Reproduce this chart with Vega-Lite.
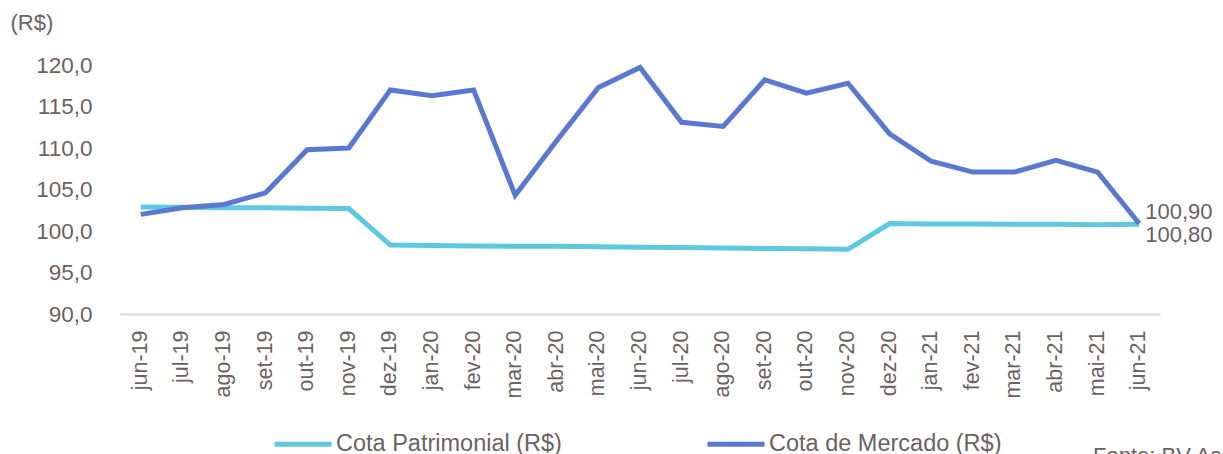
{
  "$schema": "https://vega.github.io/schema/vega-lite/v6.json",
  "width": 1040,
  "height": 249,
  "autosize": {"type": "none"},
  "padding": {"left": 120, "top": 65, "right": 63, "bottom": 140},
  "background": "white",
  "config": {
    "locale": {"number": {"decimal": ",", "thousands": ".", "grouping": [3], "currency": ["R$", ""]}},
    "font": "Liberation Sans",
    "view": {"stroke": null},
    "axis": {"labelColor": "#6B6262", "titleColor": "#6B6262", "labelFont": "Liberation Sans", "titleFont": "Liberation Sans"}
  },
  "title": {
    "text": "Fonte: BV Asset",
    "orient": "bottom",
    "anchor": "start",
    "frame": "group",
    "dx": 973,
    "offset": -10,
    "fontSize": 22,
    "fontWeight": "normal",
    "color": "#6B6262",
    "baseline": "top"
  },
  "data": {
    "values": [
      {"mes": "jun-19", "serie": "Cota Patrimonial (R$)", "valor": 102.9},
      {"mes": "jul-19", "serie": "Cota Patrimonial (R$)", "valor": 102.85},
      {"mes": "ago-19", "serie": "Cota Patrimonial (R$)", "valor": 102.8},
      {"mes": "set-19", "serie": "Cota Patrimonial (R$)", "valor": 102.8},
      {"mes": "out-19", "serie": "Cota Patrimonial (R$)", "valor": 102.75},
      {"mes": "nov-19", "serie": "Cota Patrimonial (R$)", "valor": 102.7},
      {"mes": "dez-19", "serie": "Cota Patrimonial (R$)", "valor": 98.3},
      {"mes": "jan-20", "serie": "Cota Patrimonial (R$)", "valor": 98.25},
      {"mes": "fev-20", "serie": "Cota Patrimonial (R$)", "valor": 98.2},
      {"mes": "mar-20", "serie": "Cota Patrimonial (R$)", "valor": 98.15},
      {"mes": "abr-20", "serie": "Cota Patrimonial (R$)", "valor": 98.15},
      {"mes": "mai-20", "serie": "Cota Patrimonial (R$)", "valor": 98.1},
      {"mes": "jun-20", "serie": "Cota Patrimonial (R$)", "valor": 98.05},
      {"mes": "jul-20", "serie": "Cota Patrimonial (R$)", "valor": 98.0},
      {"mes": "ago-20", "serie": "Cota Patrimonial (R$)", "valor": 97.95},
      {"mes": "set-20", "serie": "Cota Patrimonial (R$)", "valor": 97.9},
      {"mes": "out-20", "serie": "Cota Patrimonial (R$)", "valor": 97.85},
      {"mes": "nov-20", "serie": "Cota Patrimonial (R$)", "valor": 97.8},
      {"mes": "dez-20", "serie": "Cota Patrimonial (R$)", "valor": 100.9},
      {"mes": "jan-21", "serie": "Cota Patrimonial (R$)", "valor": 100.85},
      {"mes": "fev-21", "serie": "Cota Patrimonial (R$)", "valor": 100.85},
      {"mes": "mar-21", "serie": "Cota Patrimonial (R$)", "valor": 100.8},
      {"mes": "abr-21", "serie": "Cota Patrimonial (R$)", "valor": 100.8},
      {"mes": "mai-21", "serie": "Cota Patrimonial (R$)", "valor": 100.75},
      {"mes": "jun-21", "serie": "Cota Patrimonial (R$)", "valor": 100.8},
      {"mes": "jun-19", "serie": "Cota de Mercado (R$)", "valor": 102.0},
      {"mes": "jul-19", "serie": "Cota de Mercado (R$)", "valor": 102.8},
      {"mes": "ago-19", "serie": "Cota de Mercado (R$)", "valor": 103.2},
      {"mes": "set-19", "serie": "Cota de Mercado (R$)", "valor": 104.6},
      {"mes": "out-19", "serie": "Cota de Mercado (R$)", "valor": 109.8},
      {"mes": "nov-19", "serie": "Cota de Mercado (R$)", "valor": 110.0},
      {"mes": "dez-19", "serie": "Cota de Mercado (R$)", "valor": 117.0},
      {"mes": "jan-20", "serie": "Cota de Mercado (R$)", "valor": 116.3},
      {"mes": "fev-20", "serie": "Cota de Mercado (R$)", "valor": 117.0},
      {"mes": "mar-20", "serie": "Cota de Mercado (R$)", "valor": 104.3},
      {"mes": "abr-20", "serie": "Cota de Mercado (R$)", "valor": 110.9},
      {"mes": "mai-20", "serie": "Cota de Mercado (R$)", "valor": 117.3},
      {"mes": "jun-20", "serie": "Cota de Mercado (R$)", "valor": 119.7},
      {"mes": "jul-20", "serie": "Cota de Mercado (R$)", "valor": 113.1},
      {"mes": "ago-20", "serie": "Cota de Mercado (R$)", "valor": 112.6},
      {"mes": "set-20", "serie": "Cota de Mercado (R$)", "valor": 118.2},
      {"mes": "out-20", "serie": "Cota de Mercado (R$)", "valor": 116.6},
      {"mes": "nov-20", "serie": "Cota de Mercado (R$)", "valor": 117.8},
      {"mes": "dez-20", "serie": "Cota de Mercado (R$)", "valor": 111.7},
      {"mes": "jan-21", "serie": "Cota de Mercado (R$)", "valor": 108.4},
      {"mes": "fev-21", "serie": "Cota de Mercado (R$)", "valor": 107.1},
      {"mes": "mar-21", "serie": "Cota de Mercado (R$)", "valor": 107.1},
      {"mes": "abr-21", "serie": "Cota de Mercado (R$)", "valor": 108.5},
      {"mes": "mai-21", "serie": "Cota de Mercado (R$)", "valor": 107.1},
      {"mes": "jun-21", "serie": "Cota de Mercado (R$)", "valor": 100.9}
    ]
  },
  "encoding": {
    "x": {
      "field": "mes",
      "type": "ordinal",
      "sort": ["jun-19","jul-19","ago-19","set-19","out-19","nov-19","dez-19","jan-20","fev-20","mar-20","abr-20","mai-20","jun-20","jul-20","ago-20","set-20","out-20","nov-20","dez-20","jan-21","fev-21","mar-21","abr-21","mai-21","jun-21"],
      "scale": {"type": "band", "paddingInner": 0, "paddingOuter": 0},
      "axis": {
        "title": null,
        "labelAngle": -90,
        "labelAlign": "right",
        "labelBaseline": "middle",
        "labelPadding": 16,
        "labelFontSize": 21.5,
        "ticks": false,
        "domainColor": "#D9D9D9",
        "domainWidth": 2,
        "grid": false
      }
    },
    "y": {
      "field": "valor",
      "type": "quantitative",
      "scale": {"domain": [90, 120], "nice": false, "zero": false},
      "axis": {
        "title": "(R$)",
        "titleAngle": 0,
        "titleAlign": "left",
        "titleBaseline": "middle",
        "titleX": -110,
        "titleY": -43,
        "titleFontSize": 22,
        "titleFontWeight": "normal",
        "values": [90, 95, 100, 105, 110, 115, 120],
        "format": ".1f",
        "labelFontSize": 22.5,
        "labelPadding": 28,
        "domain": false,
        "ticks": false,
        "grid": false
      }
    }
  },
  "layer": [
    {
      "mark": {"type": "line", "strokeWidth": 5},
      "encoding": {
        "color": {
          "field": "serie",
          "type": "nominal",
          "scale": {"domain": ["Cota Patrimonial (R$)", "Cota de Mercado (R$)"], "range": ["#5DC8E0", "#5A78D0"]},
          "legend": {
            "title": null,
            "orient": "none",
            "direction": "horizontal",
            "legendX": 152,
            "legendY": 348,
            "symbolType": "stroke",
            "symbolSize": 3249,
            "symbolStrokeWidth": 5,
            "labelFontSize": 23.5,
            "labelColor": "#6B6262",
            "labelFont": "Liberation Sans",
            "labelOffset": 2,
            "labelLimit": 400,
            "columnPadding": 135
          }
        }
      }
    },
    {
      "transform": [{"filter": "datum.mes == 'jun-21' && datum.serie == 'Cota de Mercado (R$)'"}],
      "mark": {"type": "text", "align": "left", "baseline": "middle", "dx": 6, "dy": -12, "fontSize": 22, "color": "#6B6262"},
      "encoding": {"text": {"field": "valor", "type": "quantitative", "format": ".2f"}}
    },
    {
      "transform": [{"filter": "datum.mes == 'jun-21' && datum.serie == 'Cota Patrimonial (R$)'"}],
      "mark": {"type": "text", "align": "left", "baseline": "middle", "dx": 6, "dy": 11, "fontSize": 22, "color": "#6B6262"},
      "encoding": {"text": {"field": "valor", "type": "quantitative", "format": ".2f"}}
    }
  ]
}
